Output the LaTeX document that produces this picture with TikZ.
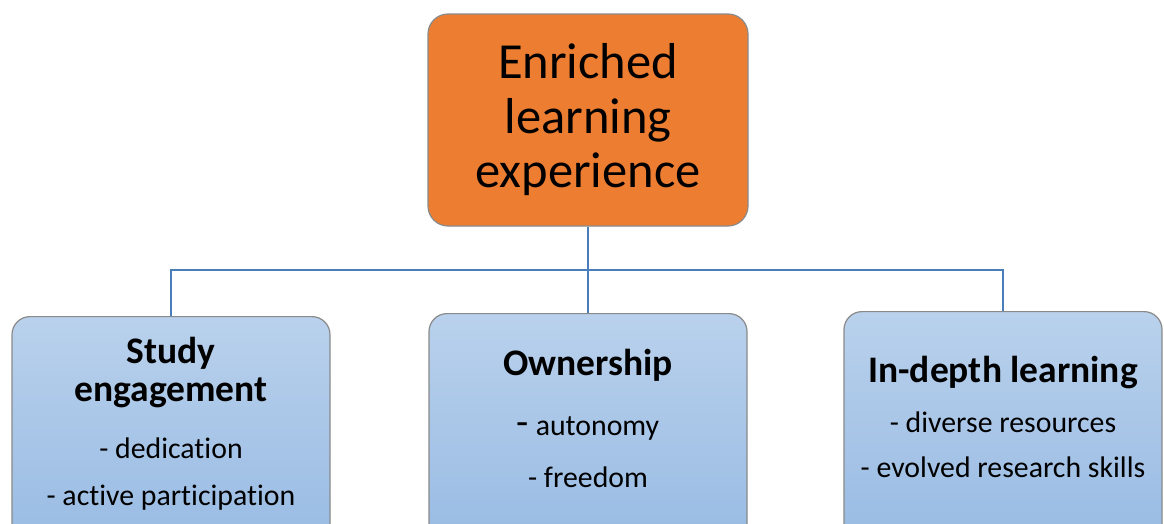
\documentclass[tikz,border=0pt]{standalone}
\usepackage{fontspec}
\setmainfont{Carlito}[Ligatures=NoCommon]
\definecolor{rootfill}{HTML}{ED7D31}
\definecolor{boxline}{HTML}{8A8A8A}
\definecolor{leaftop}{HTML}{B9D1EC}
\definecolor{leafbot}{HTML}{97BAE3}
\definecolor{linkblue}{HTML}{4A7EBB}
\tikzset{
  rootbox/.style={draw=boxline, line width=1.2pt, fill=rootfill, rounded corners=20pt,
    minimum width=320pt, minimum height=212pt, inner sep=0pt},
  leafbox/.style={draw=boxline, line width=1.2pt, rounded corners=18pt,
    top color=leaftop, bottom color=leafbot,
    minimum width=318pt, minimum height=240pt, inner sep=0pt},
  link/.style={draw=linkblue, line width=2pt},
  txt/.style={anchor=base, inner sep=0pt},
  roottext/.style={txt, font=\fontsize{50.5}{54}\selectfont},
  headtext/.style={txt, font=\fontsize{37.5}{40}\selectfont\bfseries},
  itemtext/.style={txt, font=\fontsize{29.8}{32}\selectfont},
}
\begin{document}
\begin{tikzpicture}[x=1pt,y=-1pt]
\useasboundingbox (0,0) rectangle (1164,523);
\clip (0,0) rectangle (1164,523);
\fill[white] (0,0) rectangle (1164,523);

% boxes
\node[rootbox] (root) at (588,120) {};
\node[leafbox, anchor=north] (study) at (171,316) {};
\node[leafbox, anchor=north] (own) at (588,313) {};
\node[leafbox, anchor=north] (deep) at (1003,311) {};

% connectors
\coordinate (hub) at (588,270);
\draw[link] (root.south) -- (hub);
\draw[link] (hub) -| (study.north);
\draw[link] (hub) -| (deep.north);
\draw[link] (hub) -- (own.north);

% root text
\node[roottext] (r1) at (588,78) {Enriched};
\node[roottext] (r2) at (588,133) {learning};
\node[roottext] (r3) at (588,187) {experience};

% study engagement
\node[headtext] (s1) at (171,363) {Study};
\node[headtext] (s2) at (171,401) {engagement};
\node[itemtext] (s3) at (171,458) {- dedication};
\node[itemtext] (s4) at (171,505) {- active participation};

% ownership
\node[headtext] (o1) at (588,375) {Ownership};
\node[itemtext] (o2) at (588,435) {{\fontsize{40}{40}\selectfont -} autonomy};
\node[itemtext] (o3) at (588,487) {- freedom};

% in-depth learning
\node[headtext] (d1) at (1003,382) {In-depth learning};
\node[itemtext] (d2) at (1003,432) {- diverse resources};
\node[itemtext] (d3) at (1003,477) {- evolved research skills};
\end{tikzpicture}
\end{document}
